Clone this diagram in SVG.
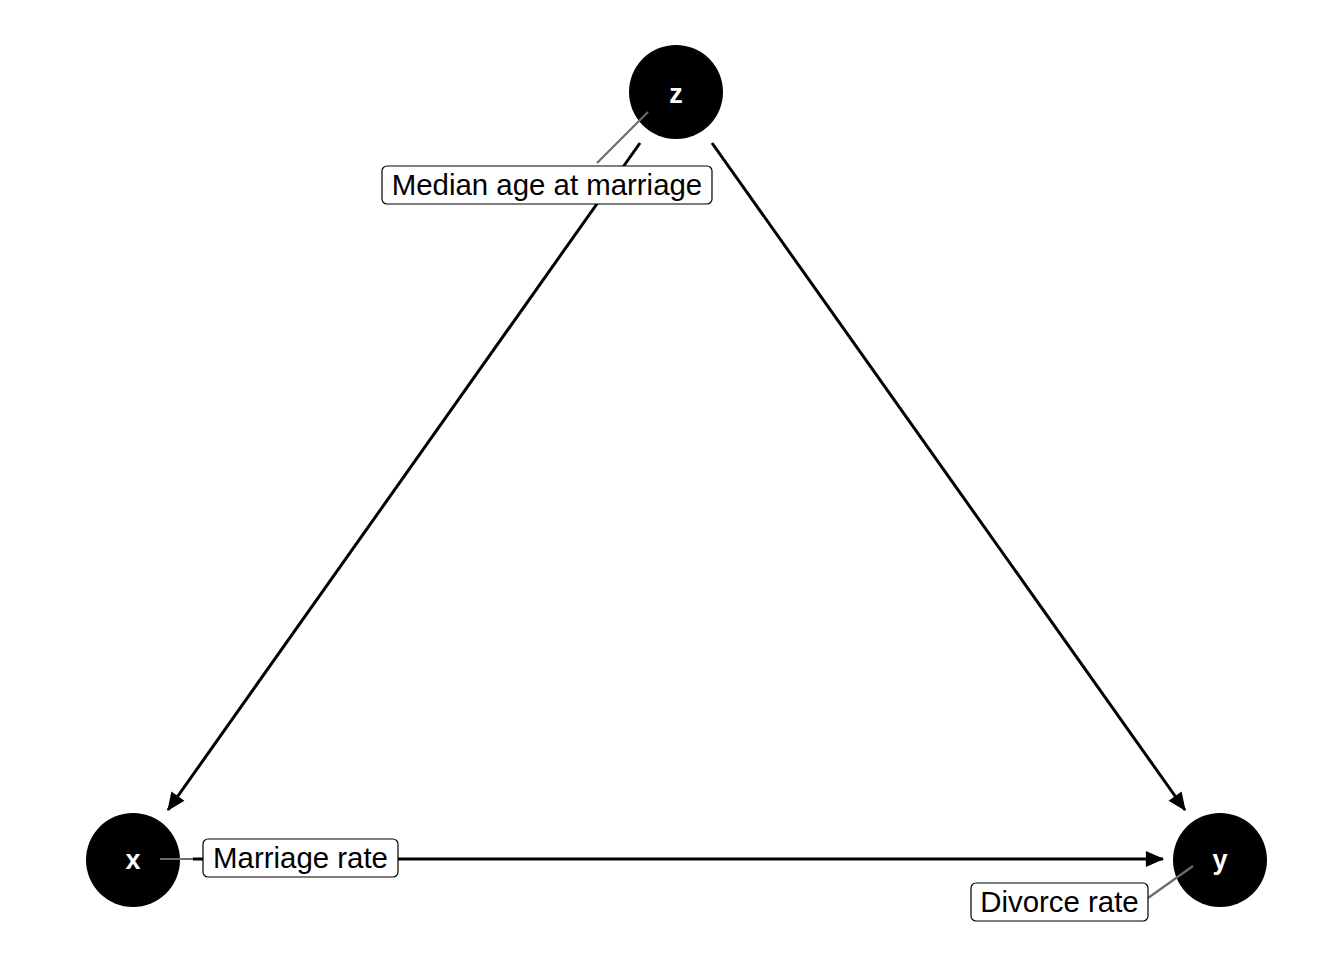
<svg xmlns="http://www.w3.org/2000/svg" width="1344" height="960" viewBox="0 0 1344 960">
<style>
.edge{stroke:#000;stroke-width:3;fill:none;marker-end:url(#ah)}
.node circle{fill:#000}
.node text{fill:#fff;font-family:"Liberation Sans",Arial,sans-serif;font-weight:bold;font-size:27px;text-anchor:middle}
.leader{stroke:#6b6b6b;stroke-width:2.2;fill:none}
.lbl rect{fill:#fff;stroke:#000;stroke-width:1.2}
.lbl text{fill:#000;font-family:"Liberation Sans",Arial,sans-serif;font-size:29.4px;text-anchor:middle}
</style>
<defs>
<marker id="ah" markerUnits="userSpaceOnUse" markerWidth="20" markerHeight="16" viewBox="0 0 16 14" refX="15" refY="7" orient="auto">
<path d="M0,0 L16,7 L0,14 Z" fill="#000"/>
</marker>
</defs>
<rect width="1344" height="960" fill="#fff"/>
<g id="connectors">
<line class="edge" x1="640" y1="143" x2="168" y2="810"/>
<line class="edge" x1="712" y1="143" x2="1185" y2="810"/>
<line class="edge" x1="193" y1="859" x2="1163" y2="859"/>
</g>
<g id="node-z" class="node"><circle cx="676" cy="92" r="47"/><text x="676" y="103">z</text></g>
<g id="node-x" class="node"><circle cx="133" cy="860" r="47"/><text x="133" y="869">x</text></g>
<g id="node-y" class="node"><circle cx="1220" cy="860" r="47"/><text x="1220" y="869">y</text></g>
<g id="label-z" class="lbl">
<line class="leader" x1="648" y1="112" x2="597" y2="163"/>
<rect x="382" y="166" width="330" height="38" rx="5"/>
<text x="547" y="195">Median age at marriage</text>
</g>
<g id="label-x" class="lbl">
<line class="leader" x1="160" y1="859" x2="193" y2="859"/>
<rect x="203" y="839" width="195" height="38" rx="5"/>
<text x="300.5" y="868">Marriage rate</text>
</g>
<g id="label-y" class="lbl">
<line class="leader" x1="1193" y1="866" x2="1148" y2="898"/>
<rect x="971" y="883" width="177" height="38" rx="5"/>
<text x="1059.5" y="912">Divorce rate</text>
</g>
</svg>
